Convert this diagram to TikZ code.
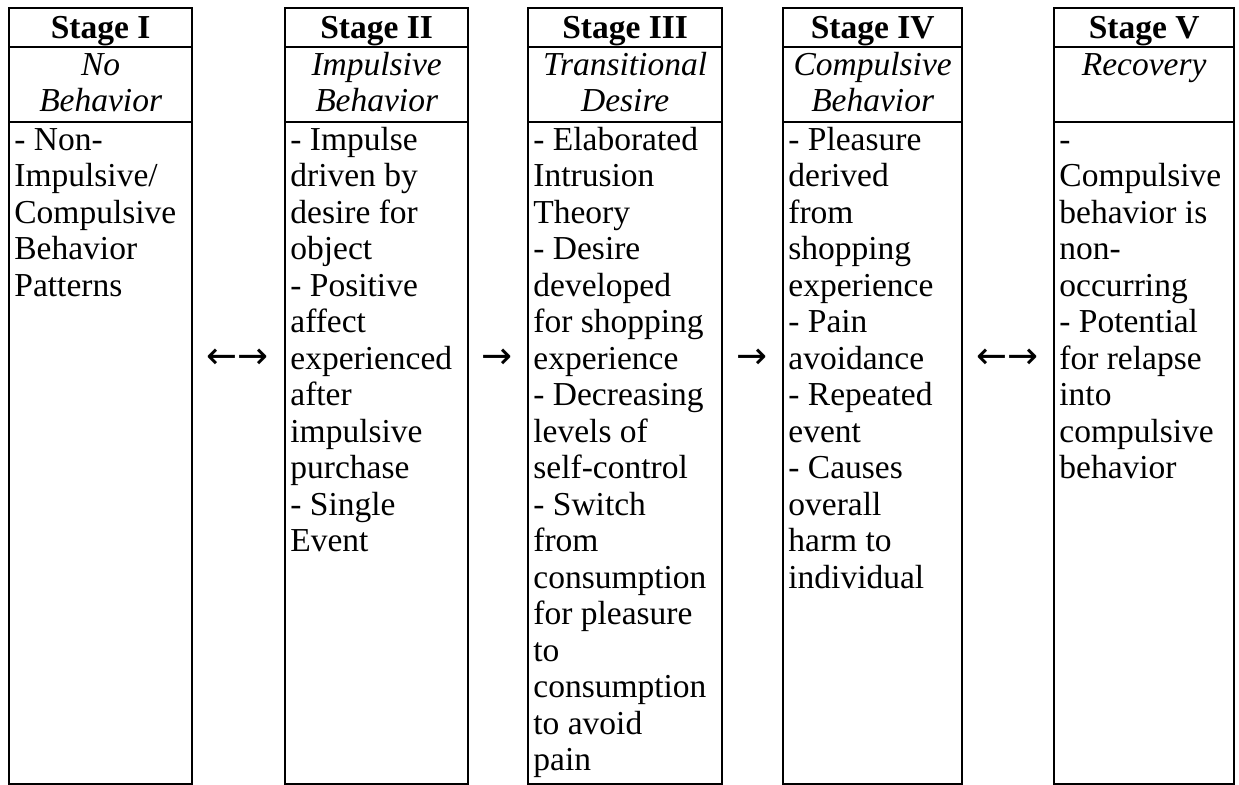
\documentclass[tikz,border=0pt]{standalone}
\usepackage{fontspec}
\setmainfont{Liberation Serif}
\newfontfamily\arrowfont{DejaVu Sans}
\begin{document}
\begin{tikzpicture}[x=0.5pt,y=-0.5pt,
  cell/.style={draw, line width=1.15pt, inner sep=0pt, anchor=north west},
  textfont/.style={font=\fontsize{16.75}{18.25}\selectfont},
  headtext/.style={font=\fontsize{16.75}{18.25}\selectfont\bfseries, anchor=base, inner sep=0pt},
  titletext/.style={font=\fontsize{16.75}{18.25}\selectfont\itshape, align=center, anchor=north, inner sep=0pt},
  bodytext/.style={textfont, align=left, anchor=north west, inner sep=0pt},
  arrowtext/.style={font=\arrowfont\fontsize{18.5}{20}\selectfont, anchor=base, inner sep=0pt}]
\useasboundingbox (0,0) rectangle (1239,785);

% one stage column: name, left edge, width, heading, subtitle, body lines
\newcommand{\stagecolumn}[6]{%
  \node[cell, minimum width=#3*0.5pt, minimum height=39*0.5pt] (#1h) at (#2,7) {};
  \node[cell, minimum width=#3*0.5pt, minimum height=75*0.5pt] (#1t) at (#2,46) {};
  \node[cell, minimum width=#3*0.5pt, minimum height=662*0.5pt] (#1b) at (#2,121) {};
  \node[headtext] (#1head) at ([yshift=-32*0.5pt]#1h.north) {#4};
  \node[titletext] (#1title) at ([yshift=-3.45*0.5pt]#1t.north) {\strut#5};
  \node[bodytext] (#1body) at ([xshift=6*0.5pt,yshift=-3.45*0.5pt]#1b.north west) {\strut#6};
}

\stagecolumn{s1}{8}{183}{Stage I}{No\\Behavior}%
  {- Non-\\Impulsive/\\Compulsive\\Behavior\\Patterns}
\stagecolumn{s2}{284}{183}{Stage II}{Impulsive\\Behavior}%
  {- Impulse\\driven by\\desire for\\object\\- Positive\\affect\\experienced\\after\\impulsive\\purchase\\- Single\\Event}
\stagecolumn{s3}{527}{194}{Stage III}{Transitional\\Desire}%
  {- Elaborated\\Intrusion\\Theory\\- Desire\\developed\\for shopping\\experience\\- Decreasing\\levels of\\self-control\\- Switch\\from\\consumption\\for pleasure\\to\\consumption\\to avoid\\pain}
\stagecolumn{s4}{782}{179}{Stage IV}{Compulsive\\Behavior}%
  {- Pleasure\\derived\\from\\shopping\\experience\\- Pain\\avoidance\\- Repeated\\event\\- Causes\\overall\\harm to\\individual}
\stagecolumn{s5}{1053}{180}{Stage V}{Recovery}%
  {-\\Compulsive\\behavior is\\non-\\occurring\\- Potential\\for relapse\\into\\compulsive\\behavior}

% arrows between the stages, level with the seventh body line
\node[arrowtext] (a12) at (237.5,369) {←→};
\node[arrowtext] (a23) at (497,369) {→};
\node[arrowtext] (a34) at (751.5,369) {→};
\node[arrowtext] (a45) at (1007,369) {←→};
\end{tikzpicture}
\end{document}
